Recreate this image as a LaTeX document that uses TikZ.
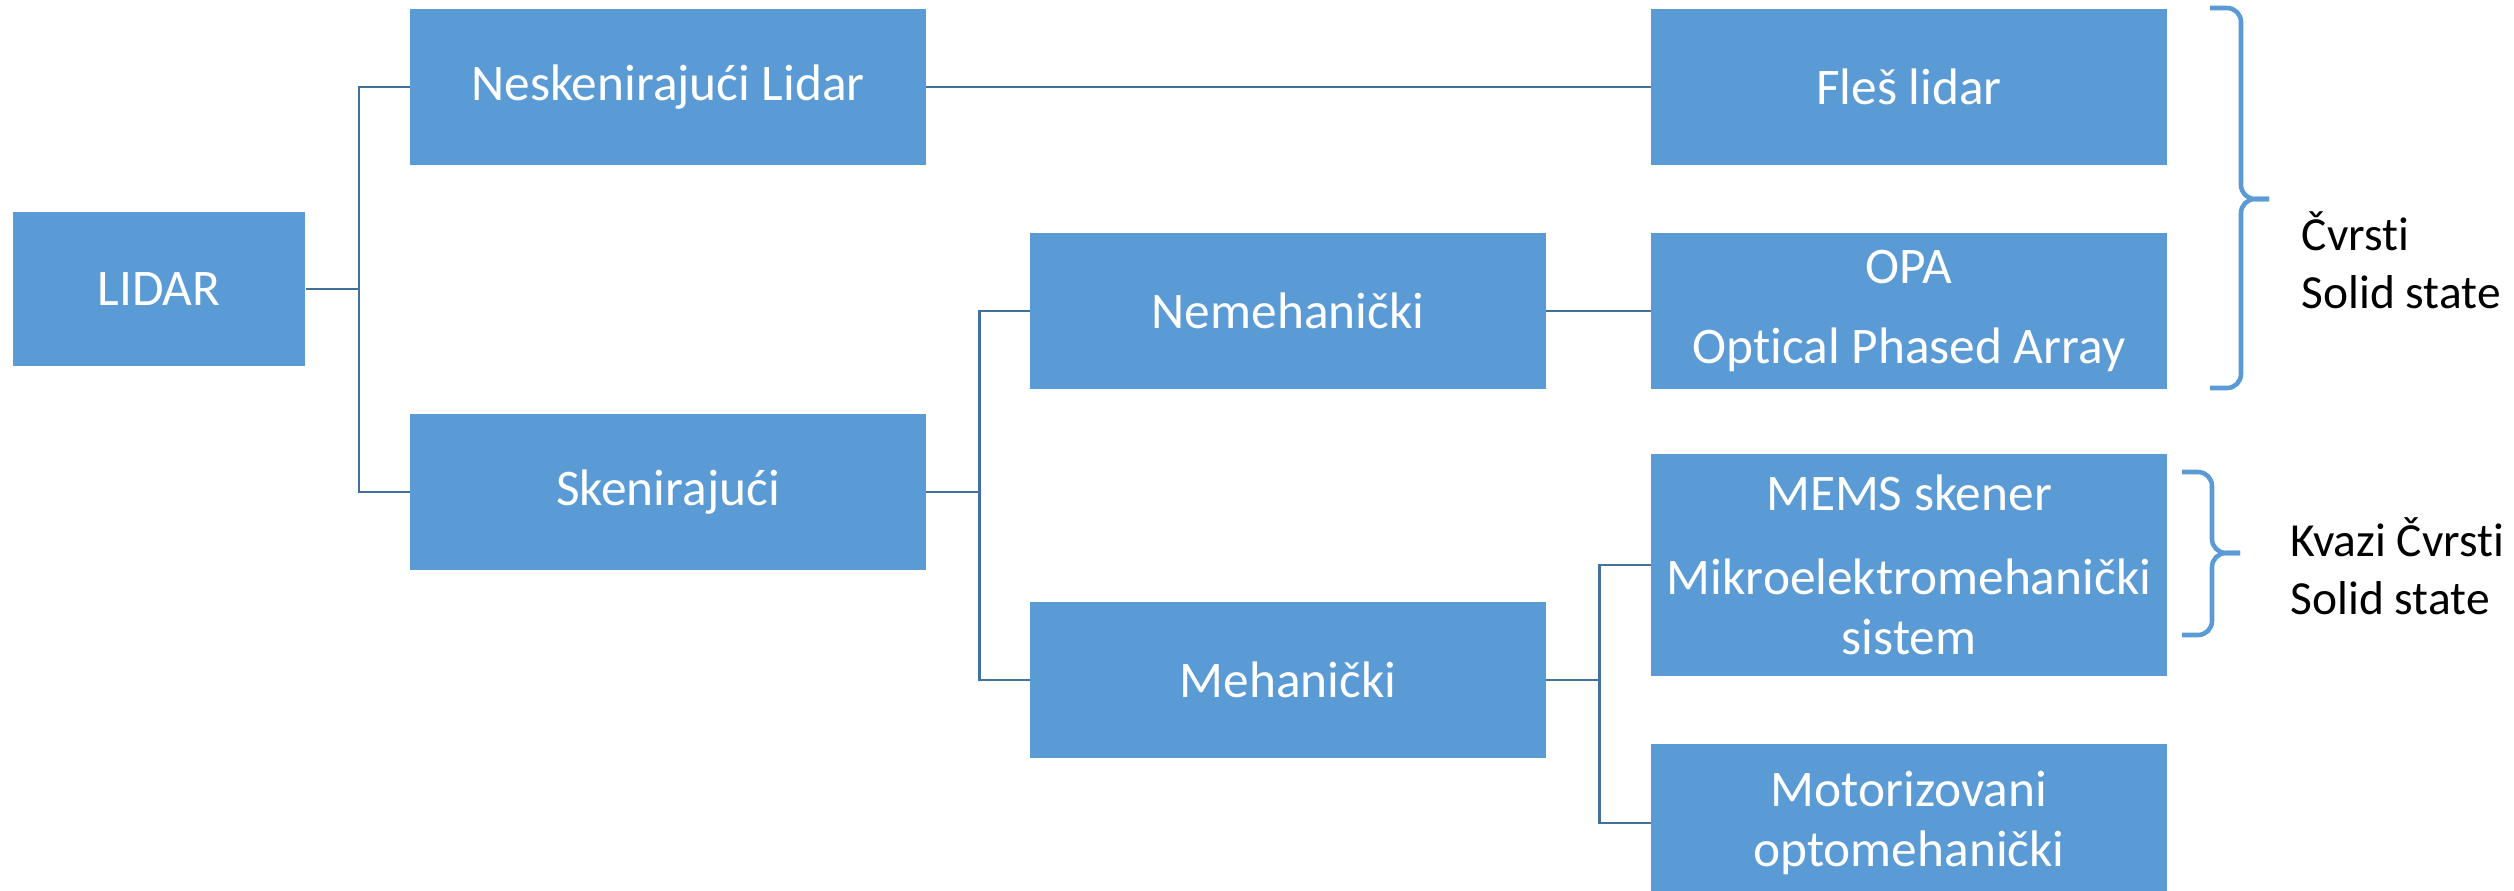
\documentclass[tikz,border=0pt]{standalone}
\usepackage{fontspec}
\setmainfont{Carlito}[Ligatures=NoCommon]
\definecolor{boxblue}{RGB}{91,155,213}
\definecolor{lineblue}{RGB}{65,113,156}

\begin{document}
\begin{tikzpicture}[x=0.01cm, y=-0.01cm,
    blok/.style={fill=boxblue, text=white, minimum width=5.15cm, minimum height=1.55cm,
      inner sep=0pt, align=center, font=\fontsize{14.6}{17}\selectfont},
    veza/.style={draw=lineblue, line width=0.7pt},
    zagrada/.style={draw=boxblue, line width=1.3pt, rounded corners=0.14cm},
    oznaka/.style={inner sep=0pt, align=left, font=\fontsize{13.5}{16.4}\selectfont}]
       \useasboundingbox (0,0) rectangle (2514,890);

       \node(lidar)[blok, minimum width=2.92cm, minimum height=1.54cm] at (159,289) {LIDAR};

       \node(nesken)[blok] at (668,87) {Neskenirajući Lidar};
       \node(sken)[blok] at (668,492) {Skenirajući};

       \draw[veza] (lidar.east) -- ++(53,0) |- (nesken.west);
       \draw[veza] (lidar.east) -- ++(53,0) |- (sken.west);

       \node(nemeh)[blok] at (1288,311) {Nemehanički};
       \node(meh)[blok] at (1288,680) {Mehanički};

       \draw[veza] (sken.east) -- ++(53,0) |- (nemeh.west);
       \draw[veza] (sken.east) -- ++(53,0) |- (meh.west);

       \node(fles)[blok] at (1909,87) {Fleš lidar};
       \node(opa)[blok] at (1909,311) {OPA\\[6pt]Optical Phased Array};
       \node(mems)[blok, minimum height=2.22cm] at (1909,565) {MEMS skener\\[7pt]Mikroelektromehanički\\sistem};
       \node(motor)[blok, minimum height=1.57cm] at (1909,823) {Motorizovani\\optomehanički};

       \draw[veza] (nesken.east) -- (fles.west);
       \draw[veza] (nemeh.east) -- (opa.west);
       \draw[veza] (meh.east) -- ++(53,0) |- (mems.west);
       \draw[veza] (meh.east) -- ++(53,0) |- (motor.west);

       % zagrade
       \draw[zagrada] (2210,8) -- (2241,8) -- (2241,199) -- (2269,199);
       \draw[zagrada] (2210,388) -- (2241,388) -- (2241,199) -- (2269,199);
       \node(cvrsti)[oznaka, anchor=west] at (2301,260) {Čvrsti\\Solid state};

       \draw[zagrada] (2182,472) -- (2212,472) -- (2212,553) -- (2240,553);
       \draw[zagrada] (2182,635) -- (2212,635) -- (2212,553) -- (2240,553);
       \node(kvazi)[oznaka, anchor=west] at (2290,566) {Kvazi Čvrsti\\Solid state};
\end{tikzpicture}
\end{document}
